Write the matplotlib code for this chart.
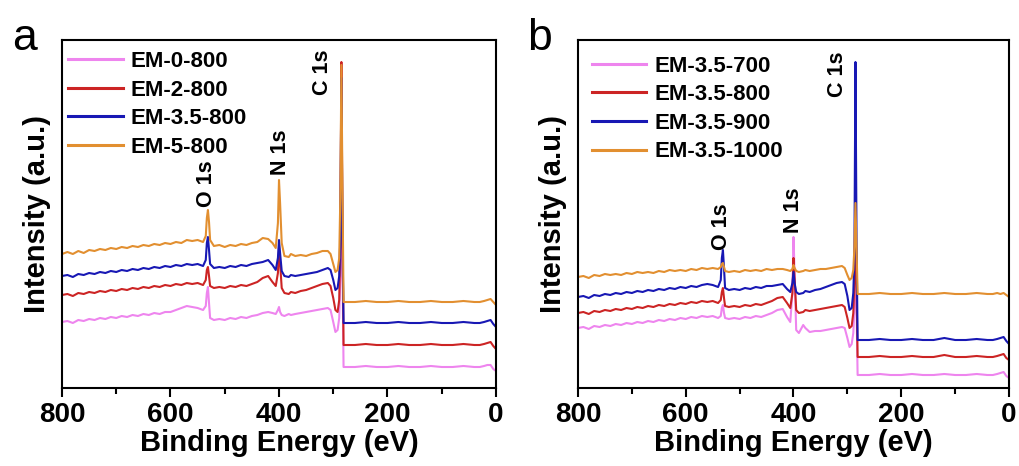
import matplotlib
matplotlib.use("Agg")
import matplotlib.pyplot as plt
from matplotlib.ticker import MultipleLocator

plt.rcParams['font.family'] = ['Liberation Sans', 'DejaVu Sans']

# Binding energy grid (eV), shared by every spectrum
energy = [800, 790, 780, 770, 760, 750, 740, 730, 720, 710, 700, 690, 680, 670,
          660, 650, 640, 630, 620, 610, 600, 590, 580, 570, 560, 550, 540,
          535, 533, 531, 529, 527,
          520, 510, 500, 490, 480, 470, 460, 450, 440, 430,
          420, 412, 406, 402, 400, 398, 395, 390,
          382, 378, 370, 360, 350, 340, 330, 320, 310,
          305, 300, 296, 292, 289, 287, 285, 283, 281,
          275, 260, 240, 220, 200, 180, 160, 140, 120, 100, 80, 60, 40, 30, 22, 16, 10, 5, 0]

# Panel a: precursor ratio series (offset intensity, a.u.)
em_0_800 = [66, 67, 65, 68, 67, 69, 68, 70, 69, 71, 70, 72, 71, 73, 72, 74, 73, 75, 74, 76, 76, 78, 80, 82, 81, 80, 78,
            82, 95, 101, 85, 70,
            68, 69, 68, 70, 69, 71, 70, 72, 73, 75,
            76, 75, 74, 78, 81, 76, 73, 72,
            74, 73, 74, 75, 76, 77, 78, 79, 80,
            78, 66, 56, 58, 70, 110, 290, 120, 21,
            21, 21, 22, 21, 21, 22, 21, 21, 22, 21, 21, 22, 21, 21, 22, 23, 23, 19, 17]
em_2_800 = [93, 94, 92, 95, 94, 96, 95, 97, 96, 98, 97, 99, 98, 100, 99, 101, 100, 102, 101, 103, 102, 104, 103, 105, 104, 105, 103,
            108, 118, 121, 112, 102,
            100, 101, 100, 102, 101, 103, 102, 104, 106, 110,
            112, 106, 102, 115, 140, 125, 100, 95,
            94, 96, 95, 97, 98, 100, 102, 104, 105,
            102, 90, 78, 76, 88, 140, 326, 160, 43,
            43, 43, 44, 43, 43, 44, 43, 43, 44, 43, 43, 44, 43, 43, 44, 45, 46, 42, 39]
em_35_800 = [112, 113, 111, 114, 113, 115, 114, 116, 115, 117, 116, 118, 117, 119, 118, 120, 119, 121, 120, 122, 121, 123, 122, 124, 123, 124, 122,
             128, 145, 151, 138, 124,
             120, 121, 120, 122, 121, 123, 122, 124, 125, 126,
             128, 123, 118, 130, 148, 135, 117, 112,
             111, 113, 112, 113, 114, 115, 116, 118, 120,
             118, 108, 98, 100, 112, 150, 310, 150, 65,
             65, 65, 66, 65, 65, 66, 65, 65, 66, 65, 65, 66, 65, 65, 66, 67, 68, 64, 61]
em_5_800 = [134, 136, 134, 137, 135, 138, 137, 139, 138, 140, 139, 141, 140, 142, 141, 143, 142, 144, 143, 145, 144, 146, 145, 148, 147, 148, 146,
            152, 170, 178, 166, 148,
            142, 143, 141, 143, 142, 144, 143, 145, 146, 150,
            149, 145, 140, 165, 208, 185, 145, 132,
            131, 134, 132, 133, 132, 134, 135, 137, 137,
            134, 124, 116, 118, 130, 190, 323, 200, 86,
            86, 86, 87, 86, 86, 87, 86, 86, 87, 86, 86, 87, 86, 86, 87, 88, 89, 86, 83]

# Panel b: carbonisation temperature series (offset intensity, a.u.)
em_35_700 = [60, 61, 59, 62, 61, 63, 62, 64, 63, 65, 64, 66, 65, 67, 66, 68, 67, 69, 68, 70, 69, 71, 70, 72, 71, 72, 70,
             72, 80, 83, 75, 70,
             69, 70, 69, 71, 70, 72, 71, 73, 75, 78,
             79, 71, 66, 95, 151, 115, 58, 55,
             63, 60, 56, 57, 57, 58, 59, 60, 61,
             60, 50, 41, 44, 55, 80, 150, 80, 13,
             13, 13, 14, 13, 13, 14, 13, 13, 14, 13, 13, 14, 13, 13, 14, 15, 16, 12, 10]
em_35_800b = [75, 76, 74, 77, 76, 78, 77, 79, 78, 80, 79, 81, 80, 82, 81, 83, 82, 84, 83, 85, 84, 86, 85, 87, 86, 87, 85,
              88, 96, 100, 90, 82,
              81, 82, 81, 83, 82, 84, 83, 85, 87, 90,
              91, 85, 80, 95, 130, 110, 78, 75,
              76, 78, 77, 78, 79, 80, 81, 82, 83,
              81, 70, 60, 62, 75, 105, 180, 100, 31,
              31, 31, 32, 31, 31, 32, 31, 31, 33, 31, 31, 32, 31, 31, 32, 33, 34, 30, 28]
em_35_900 = [91, 92, 90, 93, 92, 94, 93, 95, 94, 96, 95, 97, 96, 98, 97, 99, 98, 100, 99, 101, 100, 102, 101, 103, 104, 103, 101,
             108, 130, 138, 120, 100,
             98, 99, 98, 100, 99, 101, 100, 102, 102, 103,
             104, 99, 96, 105, 116, 105, 96, 94,
             95, 97, 96, 98, 99, 101, 103, 105, 106,
             104, 92, 78, 80, 95, 130, 326, 150, 48,
             48, 48, 49, 48, 48, 49, 48, 48, 50, 48, 48, 49, 48, 48, 49, 50, 51, 47, 44]
em_35_1000 = [111, 112, 110, 113, 112, 114, 113, 114, 113, 115, 114, 116, 115, 116, 115, 117, 116, 118, 117, 118, 117, 119, 118, 120, 119, 120, 119,
              121, 124, 125, 121, 117,
              116, 117, 116, 118, 117, 118, 117, 119, 118, 119,
              119, 118, 117, 119, 123, 120, 117, 116,
              117, 118, 117, 118, 119, 119, 120, 121, 122,
              120, 113, 108, 110, 118, 140, 185, 140, 94,
              94, 94, 95, 94, 94, 95, 94, 94, 95, 94, 94, 95, 94, 94, 95, 94, 95, 93, 91]

labels_a = ["EM-0-800", "EM-2-800", "EM-3.5-800", "EM-5-800"]
labels_b = ["EM-3.5-700", "EM-3.5-800", "EM-3.5-900", "EM-3.5-1000"]
colors = ["#EE85EE", "#CC2424", "#1818B4", "#E28F30"]

# Peak annotations: (text, energy, intensity at text base)
peaks_a = [("O 1s", 533, 181), ("N 1s", 398, 213), ("C 1s", 320, 293)]
peaks_b = [("O 1s", 533, 138), ("N 1s", 400, 155), ("C 1s", 318, 291)]

W, H = 1020, 466
fig = plt.figure(figsize=(W / 100, H / 100), dpi=100)
ax_a = fig.add_axes([62 / W, 1 - 388 / H, 434 / W, 348 / H])
ax_b = fig.add_axes([578 / W, 1 - 388 / H, 431 / W, 348 / H])


def draw_panel(ax, series, labels, peaks, leg_anchor):
    for y, lab, c in zip(series, labels, colors):
        ax.plot(energy, y, color=c, lw=1.5, label=lab)
    ax.set_xlim(800, 0)
    ax.set_ylim(0, 348)
    ax.set_yticks([])
    ax.xaxis.set_major_locator(MultipleLocator(200))
    ax.xaxis.set_minor_locator(MultipleLocator(100))
    ax.tick_params(axis='x', which='major', direction='out', length=6.5, width=1.5,
                   pad=3.5, labelsize=20)
    ax.tick_params(axis='x', which='minor', direction='out', length=4.3, width=1.5)
    for lbl in ax.get_xticklabels():
        lbl.set_fontweight('bold')
    for s in ax.spines.values():
        s.set_linewidth(1.5)
    ax.set_xlabel("Binding Energy (eV)", fontsize=21, fontweight='bold', labelpad=1)
    ax.set_ylabel("Intensity (a.u.)", fontsize=21, fontweight='bold', labelpad=8)
    for txt, e, yy in peaks:
        ax.text(e, yy, txt, rotation=90, ha='center', va='bottom',
                fontsize=15.5, fontweight='bold')
    leg = ax.legend(loc='upper left', bbox_to_anchor=leg_anchor, frameon=False,
                    prop={'weight': 'bold', 'size': 16}, handlelength=2.45,
                    handletextpad=0.35, labelspacing=0.34, borderpad=0,
                    borderaxespad=0)
    for h in leg.get_lines():
        h.set_linewidth(2.2)


draw_panel(ax_a, [em_0_800, em_2_800, em_35_800, em_5_800], labels_a, peaks_a,
           (0.014, 0.968))
draw_panel(ax_b, [em_35_700, em_35_800b, em_35_900, em_35_1000], labels_b, peaks_b,
           (0.032, 0.955))

fig.text(12 / W, 1 - 50 / H, "a", fontsize=32, va='baseline', ha='left')
fig.text(527 / W, 1 - 50 / H, "b", fontsize=32, va='baseline', ha='left')

fig.savefig("out.png", dpi=100)
